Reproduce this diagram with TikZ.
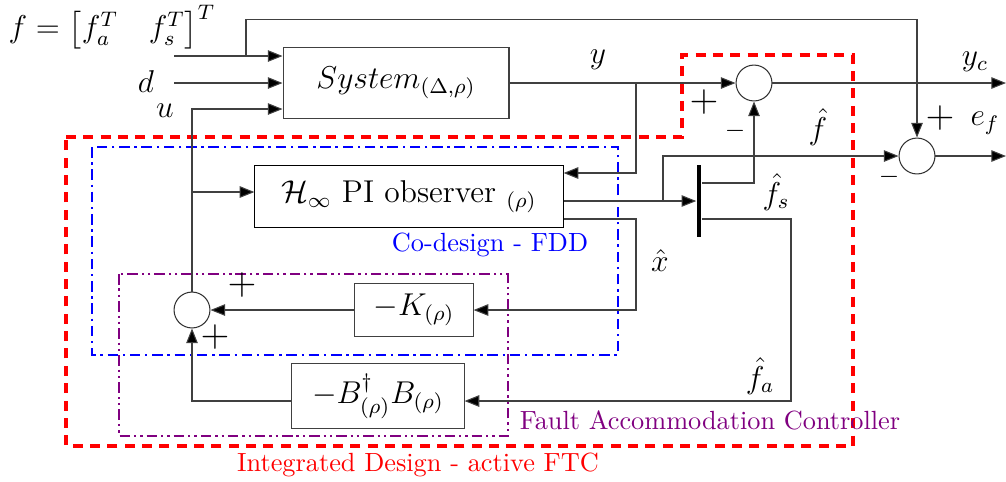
\documentclass[tikz,border=0pt]{standalone}
\usepackage{amsmath, amssymb}
\usepackage{tikz}
\usetikzlibrary{arrows.meta, positioning, calc}

\begin{document}
\begin{tikzpicture}[
    x=0.01337cm, y=-0.01337cm,
    blk/.style={
        draw=black!75,
        align=center,
        inner sep=1pt,
        font=\large
    },
    sumc/.style={
        draw=black!80,
        circle,
        minimum size=0.48cm,
        inner sep=0pt
    },
    arr/.style={
        -{Triangle[length=5.6pt,width=4.4pt,fill=black]},
        draw=black!75
    },
    lbl/.style={
        font=\large,
        inner sep=1pt
    },
    sgn/.style={
        font=\Large,
        inner sep=0pt
    },
    ftcframe/.style={
        draw=red,
        line width=1.6pt,
        dash pattern=on 3.8pt off 2.8pt
    },
    fddframe/.style={
        draw=blue,
        line width=1.1pt,
        dash pattern=on 4pt off 1.8pt on 0.9pt off 1.8pt
    },
    facframe/.style={
        draw=violet,
        line width=1.1pt,
        dash pattern=on 4pt off 1.5pt on 0.9pt off 1.5pt on 0.9pt off 1.5pt
    }
]
\useasboundingbox (0,0) rectangle (1006,481);

% Frames
\draw[ftcframe] (66,137) -- (682,137) -- (682,55) -- (853,55) -- (853,446) -- (66,446) -- cycle;
\draw[fddframe] (92,147) rectangle (618,355);
\draw[facframe] (119,274) rectangle (508,436);

% Nodes
\node (sys) [blk, minimum width=3.02cm, minimum height=0.96cm] at (396,83) {$System_{(\Delta,\rho)}$};
\node (obs) [blk, draw=black, minimum width=4.12cm, minimum height=0.84cm] at (409,196.5) {$\mathcal{H}_\infty$ PI observer ${}_{(\rho)}$};
\node (gainK) [blk, minimum width=1.58cm, minimum height=0.72cm] at (414,310) {$-K_{(\rho)}$};
\node (gainB) [blk, minimum width=2.30cm, minimum height=0.86cm] at (378,396) {$-B^{\dagger}_{(\rho)}B_{(\rho)}$};
\node (sumy) [sumc] at (754,83) {};
\node (sumf) [sumc] at (917,156) {};
\node (sumu) [sumc] at (192,310) {};
\node (sw) [fill=black, minimum width=0.06cm, minimum height=0.96cm, inner sep=0pt] at (699,201) {};

\coordinate (fin) at (174,56);
\coordinate (din) at (174,83);
\coordinate (tap) at (246,56);
\coordinate (ftop) at (246,19.5);
\coordinate (ybr) at (636,83);
\coordinate (fbr) at (663,201);
\coordinate (xh) at (636,219);
\coordinate (ubr) at (192,192);
\coordinate (fa) at (791,401);
\coordinate (yc) at (1006,83);
\coordinate (ef) at (1006,156);

% Paths
\draw [arr] (fin) -- (fin -| sys.west);
\draw [arr] (din) -- (sys.west);
\draw [arr] (sumu.north) |- ($(sys.west)+(0,26)$);
\draw [arr] (tap) -- (ftop) -| (sumf.north);
\draw [arr] (sys.east) -- (sumy.west);
\draw [arr] (ybr) |- ($(obs.east)+(0,-23.5)$);
\draw [arr] (sumy.east) -- (yc);
\draw [arr] (sumf.east) -- (ef);
\draw [arr] (obs.east |- sw.west) -- (sw.west);
\draw [arr] (fbr) |- (sumf.west);
\draw [arr] (obs.east |- xh) -- (xh) |- (gainK.east);
\draw [arr] ($(sw.east)+(0,-18)$) -| (sumy.south);
\draw [arr] ($(sw.east)+(0,18)$) -| (fa) -- (fa -| gainB.east);
\draw [arr] (gainK.west) -- (sumu.east);
\draw [arr] (gainB.west |- fa) -| (sumu.south);
\draw [arr] (ubr) -- (ubr -| obs.west);

% Labels
\node (lf) [lbl] at (112,27) {$f=\big[f_a^T\ \ \ f_s^T\big]^T$};
\node (ld) [lbl] at (146,82) {$d$};
\node (lu) [lbl] at (165,111) {$u$};
\node (ly) [lbl] at (598,60) {$y$};
\node (lyc) [lbl] at (975,62) {$y_c$};
\node (lef) [lbl] at (985,123) {$e_f$};
\node (lfh) [lbl] at (818,127) {$\hat{f}$};
\node (lfs) [lbl] at (776,192) {$\hat{f}_s$};
\node (lxh) [lbl] at (660,261) {$\hat{x}$};
\node (lfa) [lbl] at (760,376) {$\hat{f}_a$};
\node (py) [sgn] at (704,102) {$+$};
\node (my) [inner sep=0pt] at (735,131) {$-$};
\node (pf) [sgn] at (940,118) {$+$};
\node (mf) [inner sep=0pt] at (889,177) {$-$};
\node (pk) [sgn] at (242,285) {$+$};
\node (pb) [sgn] at (215,337) {$+$};
\node (tfdd) [blue] at (490,245) {Co-design - FDD};
\node (tfac) [violet] at (710,420) {Fault Accommodation Controller};
\node (tftc) [red] at (418,465) {Integrated Design - active FTC};

\end{tikzpicture}
\end{document}
